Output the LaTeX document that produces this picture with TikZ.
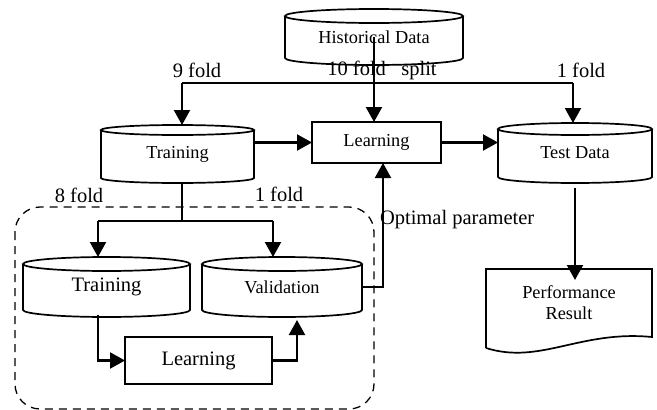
\documentclass[tikz,border=0pt]{standalone}
\usepackage{fontspec}
\setmainfont{Liberation Serif}
\usetikzlibrary{positioning, arrows.meta, calc}

\begin{document}
\begin{tikzpicture}[x=1pt, y=-1pt, >={Triangle[length=15pt,width=16pt]},
    every node/.style={outer sep=0pt, inner sep=0pt},
    db/.style={font=\fontsize{18.3}{20}\selectfont},
    proc/.style={draw, line width=1.7pt, font=\fontsize{18.3}{20}\selectfont},
    lbl/.style={font=\fontsize{20.5}{22}\selectfont},
    flow/.style={->, line width=2.1pt},
    wire/.style={line width=1.7pt}]
  \useasboundingbox (0,0) rectangle (657,410);

  % data stores
  \node[db, minimum width=178pt, minimum height=56pt] (hist) at (374,37) {Historical Data};
  \node[db, minimum width=153pt, minimum height=58pt] (train) at (177.5,154) {Training};
  \node[db, minimum width=154pt, minimum height=60pt] (test) at (575,153) {Test Data};
  \node[db, lbl, minimum width=167pt, minimum height=60pt] (itrain) at (106.5,287) {Training};
  \node[db, minimum width=160pt, minimum height=60pt] (valid) at (282,287) {Validation};
  \foreach \d/\r in {hist/7, train/5, test/6, itrain/7, valid/7}
    \draw[wire] let \p1=(\d.north west), \p2=(\d.south east), \n1={(\x2-\x1)/2} in
      ($(\d.north)+(0,\r)$) ellipse [x radius=\n1, y radius=\r pt]
      (\x1,\y1-\r pt) -- (\x1,\y2+\r pt)
      arc [start angle=180, end angle=360, x radius=\n1, y radius=\r pt]
      -- (\x2,\y1-\r pt);

  % learning boxes
  \node[proc, minimum width=129pt, minimum height=41pt] (learn) at (376.5,142.5) {Learning};
  \node[proc, lbl, minimum width=147pt, minimum height=47pt] (ilearn) at (198.5,360.5) {Learning};

  % result document
  \node[minimum width=166pt, minimum height=68pt, align=center,
        font=\fontsize{18.3}{21}\selectfont] (perf) at (569,303) {Performance\\Result};
  \draw[wire] ($(perf.south west)+(0,11)$) -- (perf.north west) -- (perf.north east)
    -- (perf.south east) .. controls +(-72,-7) and ($(perf.south west)+(54,28)$)
    .. ($(perf.south west)+(0,11)$);

  % cross validation frame
  \draw[dashed, line width=1.3pt, dash pattern=on 8pt off 6pt, rounded corners=25pt]
    (15,207) rectangle (374,409);

  % labels
  \node[lbl] (l9) at (197,70) {9 fold};
  \node[lbl] (l10) at (382,70) {10 fold\ \ \ split};
  \node[lbl] (l1) at (581,70) {1 fold};
  \node[lbl] (l8) at (79,195) {8 fold};
  \node[lbl] (l1b) at (279,194) {1 fold};
  \node[lbl, anchor=west] (opt) at (380,220) {Optimal parameter};

  % split
  \coordinate (s1) at (182,83);
  \coordinate (s2) at (573,83);
  \draw[wire] (s1) -- (s2);
  \draw[flow] (s1) -- (s1 |- train.north);
  \draw[flow] (s2) -- (s2 |- test.north);
  \draw[flow] (hist.center) -- (hist.center |- learn.north);
  \draw[flow] (train.east |- learn.west) -- (learn.west);
  \draw[flow] (learn.east) -- (learn.east -| test.west);
  \draw[flow] ($(test.south)+(0,5)$) -- ($(test.south |- perf.north)+(0,11)$);

  % inner split
  \coordinate (b0) at (182,221);
  \coordinate (b1) at (98,221);
  \coordinate (b2) at (273,221);
  \draw[wire] (b0 |- train.south) -- (b0);
  \draw[wire] (b1) -- (b2);
  \draw[flow] (b1) -- (b1 |- itrain.north);
  \draw[flow] (b2) -- (b2 |- valid.north);
  \draw[flow] ($(b1 |- itrain.south)+(0,-2)$) |- (ilearn.west);
  \coordinate (v1) at (297,320);
  \draw[flow] (ilearn.east) -| (v1);
  \coordinate (op) at (383,287);
  \draw[flow] (valid.east) -| (op |- learn.south);
\end{tikzpicture}
\end{document}
